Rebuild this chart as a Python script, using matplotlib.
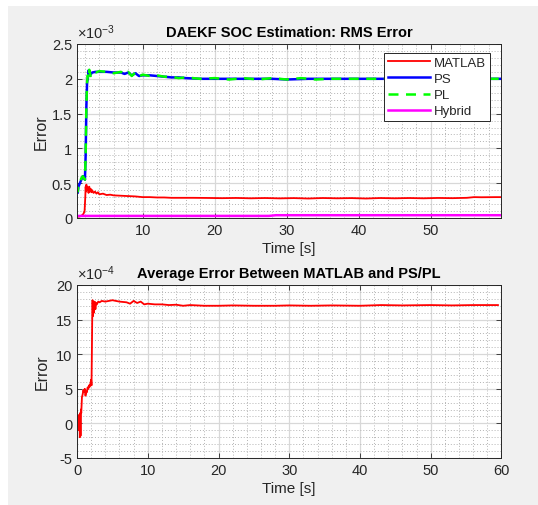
import matplotlib
matplotlib.use('Agg')
import numpy as np
from matplotlib import pyplot as plt
from matplotlib.patches import Rectangle
from matplotlib.ticker import MultipleLocator

plt.rcParams['font.family'] = ['Liberation Sans', 'DejaVu Sans']
plt.rcParams['mathtext.fontset'] = 'custom'
plt.rcParams['mathtext.rm'] = 'Liberation Sans'
plt.rcParams['mathtext.it'] = 'Liberation Sans'
plt.rcParams['axes.unicode_minus'] = False

# ---- top plot: RMS error (units of 1e-3) ----
t_matlab = [0.9, 1.2, 1.5, 1.8, 1.95, 2.05, 2.1, 2.15, 2.2, 2.3, 2.4, 2.5, 2.6, 2.7, 2.8, 2.9,
            3.0, 3.2, 3.4, 3.6, 3.8, 4.0, 4.5, 5, 5.5, 6, 7, 8, 9, 10, 11, 12, 13, 14, 15, 17,
            19, 21, 23, 25, 27, 29, 31, 33, 35, 37, 39, 41, 43, 45, 47, 49, 51, 53, 55, 56, 57,
            59, 59.8]
rms_matlab = [0.02, 0.02, 0.03, 0.06, 0.1, 0.3, 0.45, 0.38, 0.48, 0.40, 0.44, 0.36, 0.45, 0.38,
              0.42, 0.37, 0.40, 0.36, 0.38, 0.35, 0.37, 0.34, 0.35, 0.33, 0.335, 0.325, 0.32,
              0.315, 0.31, 0.30, 0.30, 0.295, 0.295, 0.29, 0.29, 0.29, 0.288, 0.285, 0.288,
              0.283, 0.287, 0.282, 0.286, 0.28, 0.287, 0.283, 0.286, 0.28, 0.287, 0.283, 0.287,
              0.283, 0.288, 0.285, 0.29, 0.30, 0.298, 0.30, 0.30]

t_ps = [0.9, 1.0, 1.1, 1.3, 1.5, 1.7, 1.85, 2.0, 2.1, 2.2, 2.3, 2.4, 2.5, 2.7, 3.0, 3.5, 4, 5,
        6, 7, 7.5, 8, 8.5, 9, 9.5, 10, 11, 12, 13, 14, 15, 16, 18, 20, 22, 25, 28, 30, 33, 35,
        40, 45, 50, 55, 59.8]
rms_ps = [0.42, 0.36, 0.45, 0.5, 0.55, 0.6, 0.6, 0.55, 0.9, 1.6, 1.95, 2.0, 2.12, 2.05, 2.09,
          2.1, 2.1, 2.1, 2.09, 2.09, 2.07, 2.09, 2.05, 2.08, 2.04, 2.05, 2.05, 2.04, 2.03, 2.02,
          2.02, 2.01, 2.0, 2.0, 2.0, 2.0, 2.0, 1.99, 2.0, 2.0, 2.0, 2.0, 2.0, 2.0, 2.0]

t_pl = [0.9, 1.0, 1.1, 1.3, 1.5, 1.7, 1.85, 2.0, 2.1, 2.2, 2.3, 2.4, 2.5, 2.6, 2.8, 3.0, 3.5,
        4, 5, 6, 7, 7.5, 8, 8.5, 9, 9.5, 10, 11, 12, 13, 14, 15, 16, 18, 20, 22, 24, 26, 28,
        30, 32, 34, 36, 40, 45, 50, 55, 59.8]
rms_pl = [0.46, 0.38, 0.47, 0.52, 0.57, 0.6, 0.58, 0.55, 0.9, 1.6, 1.95, 2.05, 2.0, 2.13, 2.04,
          2.1, 2.09, 2.11, 2.1, 2.08, 2.1, 2.06, 2.1, 2.04, 2.09, 2.03, 2.06, 2.04, 2.05, 2.03,
          2.03, 2.01, 2.02, 2.0, 2.01, 1.99, 2.01, 1.99, 2.01, 1.99, 2.01, 1.99, 2.0, 2.0, 2.0,
          2.0, 2.0, 2.0]

t_hybrid = [0.9, 10, 20, 27.5, 28.5, 40, 50, 59.8]
rms_hybrid = [0.03, 0.03, 0.03, 0.03, 0.04, 0.04, 0.04, 0.04]

# ---- bottom plot: average error between MATLAB and PS/PL (units of 1e-4) ----
t_avg = [0, 0.1, 0.2, 0.3, 0.35, 0.4, 0.45, 0.5, 0.55, 0.6, 0.7, 0.8, 0.9, 1.0, 1.1, 1.2, 1.3,
         1.4, 1.5, 1.6, 1.7, 1.8, 1.9, 2.0, 2.05, 2.1, 2.15, 2.2, 2.25, 2.3, 2.4, 2.5, 2.6, 2.7,
         2.8, 3.0, 3.2, 3.5, 4, 4.5, 5, 5.5, 6, 7, 7.5, 8, 8.5, 9, 9.5, 10, 11, 12, 13, 14, 15,
         16, 18, 20, 22, 25, 28, 30, 33, 36, 40, 43, 46, 50, 53, 56, 58, 59.5]
avg_err = [0.5, -0.5, 1.2, -1.0, 1.0, -2.0, 1.5, -1.8, 2.0, 1.5, 3.8, 4.2, 4.8, 4.5, 5.0, 4.0,
           4.6, 4.5, 5.2, 5.0, 5.5, 5.3, 5.8, 6.3, 5.5, 10, 15, 17.8, 15.5, 17.5, 16, 17.6,
           16.5, 17.4, 17.2, 17.6, 17.5, 17.7, 17.6, 17.7, 17.8, 17.7, 17.6, 17.5, 17.3, 17.7,
           17.4, 17.6, 17.2, 17.3, 17.2, 17.2, 17.1, 17.15, 17.0, 17.1, 17.0, 17.0, 17.05, 17.0,
           17.0, 17.05, 17.0, 17.05, 17.0, 17.1, 17.05, 17.1, 17.05, 17.1, 17.1, 17.1]

W, H = 538, 506
fig = plt.figure(figsize=(W / 100, H / 100), dpi=100, facecolor='white')
fig.patches.append(Rectangle((8 / W, 0), 1, 1 - 7 / H, transform=fig.transFigure,
                             facecolor='#f0f0f0', edgecolor='none', zorder=-10))

ax_color = '#262626'


def style_axes(ax, xminor, yminor):
    ax.set_facecolor('white')
    ax.xaxis.set_minor_locator(MultipleLocator(xminor))
    ax.yaxis.set_minor_locator(MultipleLocator(yminor))
    ax.grid(True, which='major', color='#d8d8d8', linewidth=0.9)
    ax.grid(True, which='minor', color='#b4b4b4', linestyle=(0, (1, 2)), linewidth=0.7)
    ax.set_axisbelow(True)
    ax.tick_params(which='both', direction='in', top=True, right=True, colors=ax_color,
                   labelsize=10.5)
    ax.tick_params(which='minor', length=0)
    ax.tick_params(which='major', length=3.5, width=0.6)
    for s in ax.spines.values():
        s.set_color(ax_color)
        s.set_linewidth(0.7)


# top
ax1 = fig.add_axes([77 / W, 1 - 219 / H, 424.5 / W, 174 / H])
ax1.plot(t_matlab, rms_matlab, color='#ff0000', lw=1.3, label='MATLAB')
ax1.plot(t_ps, rms_ps, color='#0000ff', lw=1.8, label='PS')
ax1.plot(t_pl, rms_pl, color='#00ff00', lw=1.8, ls=(0, (4, 3)), label='PL')
ax1.plot(t_hybrid, rms_hybrid, color='#ff00ff', lw=1.8, label='Hybrid')
ax1.set_xlim(0.9, 59.8)
ax1.set_ylim(0, 2.5)
ax1.set_xticks([10, 20, 30, 40, 50])
ax1.set_yticks([0, 0.5, 1, 1.5, 2, 2.5])
ax1.set_yticklabels(['0', '0.5', '1', '1.5', '2', '2.5'])
style_axes(ax1, 2, 0.1)
ax1.set_title('DAEKF SOC Estimation: RMS Error', fontsize=10.5, fontweight='bold', pad=6)
ax1.set_xlabel('Time [s]', fontsize=11, color=ax_color, labelpad=3)
ax1.set_ylabel('Error', fontsize=11.5, color=ax_color, labelpad=2)
ax1.text(0.0, 1.015, r'$\times10^{-3}$', transform=ax1.transAxes, fontsize=10.5,
         color=ax_color, va='bottom', ha='left')
leg = ax1.legend(loc='upper right', bbox_to_anchor=(0.973, 0.95), fontsize=9.5,
                 handlelength=3.2, fancybox=False, framealpha=1, edgecolor=ax_color,
                 borderpad=0.3, labelspacing=0.3, handletextpad=0.3, borderaxespad=0)
leg.get_frame().set_linewidth(0.7)
for txt in leg.get_texts():
    txt.set_color(ax_color)

# bottom
ax2 = fig.add_axes([77 / W, 1 - 459 / H, 424.5 / W, 173 / H])
ax2.plot(t_avg, avg_err, color='#ff0000', lw=1.3)
ax2.set_xlim(0, 60)
ax2.set_ylim(-5, 20)
ax2.set_xticks([0, 10, 20, 30, 40, 50, 60])
ax2.set_yticks([-5, 0, 5, 10, 15, 20])
style_axes(ax2, 2, 1)
ax2.set_title('Average Error Between MATLAB and PS/PL', fontsize=10.5, fontweight='bold', pad=6)
ax2.set_xlabel('Time [s]', fontsize=11, color=ax_color, labelpad=3)
ax2.set_ylabel('Error', fontsize=11.5, color=ax_color, labelpad=4)
ax2.text(0.0, 1.015, r'$\times10^{-4}$', transform=ax2.transAxes, fontsize=10.5,
         color=ax_color, va='bottom', ha='left')

fig.savefig('out.png', dpi=100, facecolor=fig.get_facecolor())
